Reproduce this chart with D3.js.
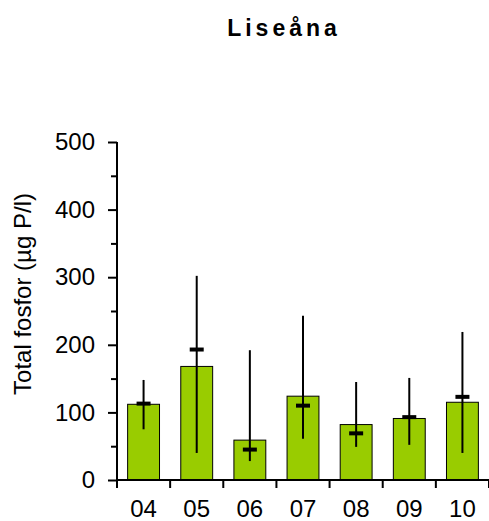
<!DOCTYPE html>
<html>
<head>
<meta charset="utf-8">
<script src="https://cdn.jsdelivr.net/npm/d3@7"></script>
<style>
  body { margin: 0; background: #fff; }
  text { font-family: "Liberation Sans", Arial, sans-serif; fill: #000; }
</style>
</head>
<body>
<svg id="chart" width="489" height="521"></svg>
<script>
var years = ["04", "05", "06", "07", "08", "09", "10"];
var barValues = [112, 168, 59, 124, 82, 91, 115];
var markValues = [113, 193, 45, 110, 69, 93, 123];
var lowValues = [75, 40, 28, 61, 49, 52, 40];
var highValues = [148, 302, 192, 243, 145, 151, 219];
var yTicks = [0, 100, 200, 300, 400, 500];
var yMinorTicks = [50, 150, 250, 350, 450];

var margin = { left: 117, top: 142 };
var width = 372;
var height = 338;

var data = [];
for (var i = 0; i < years.length; i++) {
  data.push({ year: years[i], bar: barValues[i], mark: markValues[i], lo: lowValues[i], hi: highValues[i] });
}

var svg = d3.select("#chart");

var x = d3.scaleBand().domain(years).range([0, width]).paddingInner(0.4).paddingOuter(0.2);
var y = d3.scaleLinear().domain([0, 500]).range([height, 0]);

var g = svg.append("g")
    .attr("transform", "translate(" + margin.left + "," + margin.top + ")");

// title
svg.append("text")
    .attr("x", 284)
    .attr("y", 36)
    .attr("text-anchor", "middle")
    .style("font-size", "23px")
    .style("font-weight", "bold")
    .style("letter-spacing", "4px")
    .text("Liseåna");

// y title
svg.append("text")
    .attr("transform", "translate(31,294) rotate(-90)")
    .attr("text-anchor", "middle")
    .style("font-size", "24px")
    .text("Total fosfor (µg P/l)");

// bars
g.selectAll(".bar")
    .data(data)
  .enter().append("rect")
    .attr("class", "bar")
    .attr("x", function(d) { return x(d.year); })
    .attr("y", function(d) { return y(d.bar); })
    .attr("width", x.bandwidth())
    .attr("height", function(d) { return height - y(d.bar); })
    .attr("fill", "#99cc00")
    .attr("stroke", "#000")
    .attr("stroke-width", 1);

// whiskers
g.selectAll(".whisker")
    .data(data)
  .enter().append("line")
    .attr("class", "whisker")
    .attr("x1", function(d) { return x(d.year) + x.bandwidth() / 2; })
    .attr("x2", function(d) { return x(d.year) + x.bandwidth() / 2; })
    .attr("y1", function(d) { return y(d.lo); })
    .attr("y2", function(d) { return y(d.hi); })
    .attr("stroke", "#000")
    .attr("stroke-width", 2);

// mean markers
g.selectAll(".mark")
    .data(data)
  .enter().append("line")
    .attr("class", "mark")
    .attr("x1", function(d) { return x(d.year) + x.bandwidth() / 2 - 7; })
    .attr("x2", function(d) { return x(d.year) + x.bandwidth() / 2 + 7; })
    .attr("y1", function(d) { return y(d.mark); })
    .attr("y2", function(d) { return y(d.mark); })
    .attr("stroke", "#000")
    .attr("stroke-width", 4);

// y axis
var yAxis = d3.axisLeft(y).tickValues(yTicks).tickSize(9).tickPadding(13).tickFormat(d3.format("d"));
var yg = g.append("g").attr("class", "axis axis--y").call(yAxis);
yg.select(".domain").attr("d", "M0," + height + "V0").attr("stroke-width", 2);
yg.selectAll(".tick line").attr("stroke-width", 2);
yg.selectAll(".tick text").style("font-size", "24px");

g.append("g")
    .call(d3.axisLeft(y).tickValues(yMinorTicks).tickSize(6).tickFormat(""))
    .call(function(s) { s.select(".domain").remove(); })
    .selectAll(".tick line").attr("stroke-width", 2);

// x axis
var xAxis = d3.axisBottom(x).tickSize(0).tickPadding(20);
var xg = g.append("g")
    .attr("class", "axis axis--x")
    .attr("transform", "translate(0," + height + ")")
    .call(xAxis);
xg.select(".domain").attr("d", "M0,0H" + width).attr("stroke-width", 2);
xg.selectAll(".tick text").style("font-size", "24px").attr("dy", "0.71em");

var bounds = years.map(function(d) { return x(d) - x.step() * x.paddingInner() / 2; });
bounds[0] = 0;
bounds.push(width);
xg.selectAll(".sep")
    .data(bounds)
  .enter().append("line")
    .attr("class", "sep")
    .attr("x1", function(d) { return d; })
    .attr("x2", function(d) { return d; })
    .attr("y1", 0)
    .attr("y2", 8)
    .attr("stroke", "#000")
    .attr("stroke-width", 2);
</script>
</body>
</html>
